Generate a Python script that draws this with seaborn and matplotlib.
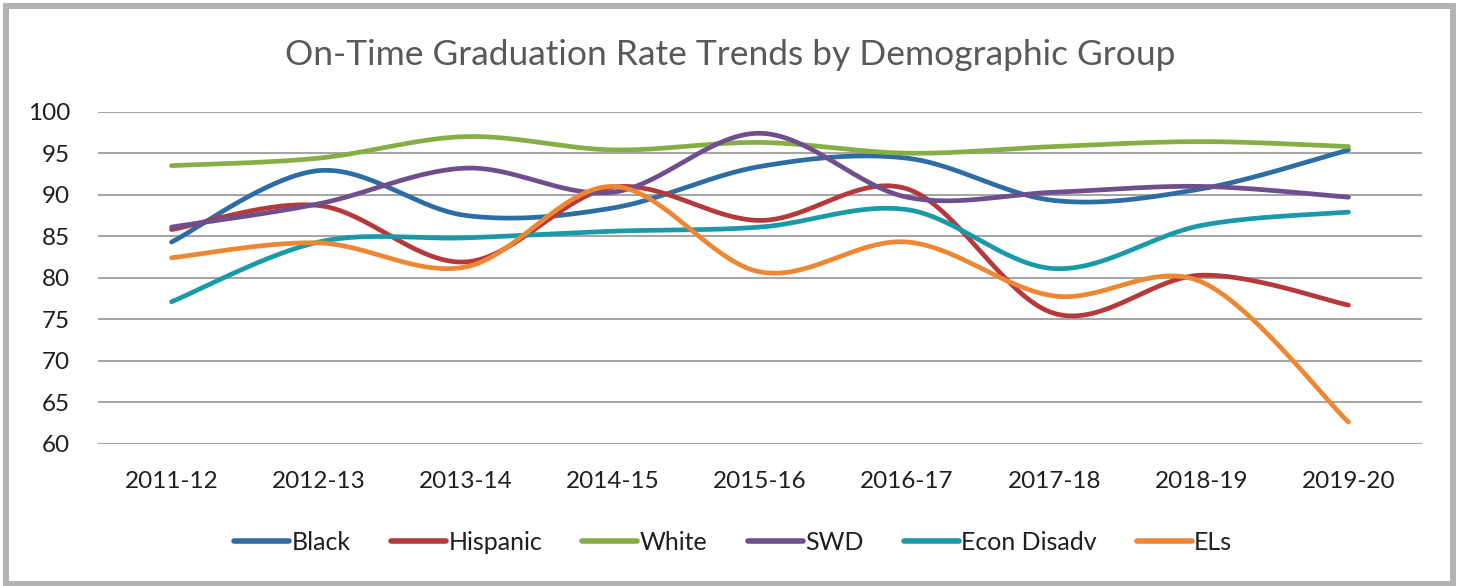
import numpy as np
import pandas as pd
import seaborn as sns
import matplotlib.pyplot as plt
from matplotlib.patches import Rectangle

years = ['2011-12', '2012-13', '2013-14', '2014-15', '2015-16', '2016-17', '2017-18', '2018-19', '2019-20']

black = [84.3, 92.9, 87.5, 88.4, 93.4, 94.4, 89.3, 90.7, 95.4]
hispanic = [85.8, 88.7, 81.9, 90.9, 86.9, 90.7, 75.7, 80.3, 76.7]
white = [93.5, 94.4, 97.0, 95.4, 96.3, 95.0, 95.8, 96.4, 95.8]
swd = [86.1, 88.9, 93.2, 90.3, 97.4, 89.7, 90.3, 91.0, 89.7]
econDisadv = [77.1, 84.3, 84.8, 85.6, 86.1, 88.2, 81.1, 86.3, 87.9]
els = [82.4, 84.2, 81.3, 91.0, 80.7, 84.3, 77.8, 79.5, 62.6]

groups = ['Black', 'Hispanic', 'White', 'SWD', 'Econ Disadv', 'ELs']
values = [black, hispanic, white, swd, econDisadv, els]
colors = ['#2E6CA4', '#B5393A', '#87AE45', '#6F4E8E', '#1A9AA9', '#EE8733']


# Excel-style smoothed line (Catmull-Rom through the points)
def smooth(xs, ys, n=40):
    pts = np.column_stack([xs, ys]).astype(float)
    padded = np.vstack([pts[0], pts, pts[-1]])
    out = []
    for i in range(len(pts) - 1):
        p0, p1, p2, p3 = padded[i], padded[i + 1], padded[i + 2], padded[i + 3]
        c1 = p1 + (p2 - p0) / 6
        c2 = p2 - (p3 - p1) / 6
        t = np.linspace(0, 1, n)[:, None]
        seg = ((1 - t) ** 3) * p1 + 3 * ((1 - t) ** 2) * t * c1 + 3 * (1 - t) * t ** 2 * c2 + t ** 3 * p2
        out.append(seg if i == 0 else seg[1:])
    out = np.vstack(out)
    return out[:, 0], out[:, 1]


frames = []
for name, vals in zip(groups, values):
    sx, sy = smooth(np.arange(len(years)), vals)
    frames.append(pd.DataFrame({'x': sx, 'rate': sy, 'group': name}))
curves = pd.concat(frames, ignore_index=True)

sns.set_style('white')
plt.rcParams['font.family'] = ['Lato', 'DejaVu Sans']

fig = plt.figure(figsize=(14.61, 5.86), dpi=100)
ax = fig.add_axes([98 / 1461, 1 - 443.7 / 586, (1422 - 98) / 1461, (443.7 - 111.7) / 586])

sns.lineplot(data=curves, x='x', y='rate', hue='group', hue_order=groups,
             palette=dict(zip(groups, colors)), sort=False, estimator=None,
             units='group', linewidth=3.4, ax=ax, legend=False,
             solid_capstyle='round')

ax.set_xlim(-0.5, 8.5)
ax.set_ylim(60, 100)
ax.set_yticks(range(60, 101, 5))
ax.set_xticks(range(len(years)))
ax.set_xticklabels(years)
ax.set_xlabel('')
ax.set_ylabel('')
ax.grid(axis='y', color='#A6A6A6', linewidth=1.5)
ax.set_axisbelow(True)
for s in ax.spines.values():
    s.set_visible(False)
ax.tick_params(axis='y', length=0, pad=20, labelsize=17.5, labelcolor='#1F1F1F')
ax.tick_params(axis='x', length=0, pad=20, labelsize=17.5, labelcolor='#1F1F1F')

fig.text(0.5, 1 - 55 / 586, 'On-Time Graduation Rate Trends by Demographic Group',
         ha='center', va='center', fontsize=25.5, color='#595959')

handles = [plt.Line2D([], [], color=c, linewidth=4, solid_capstyle='round') for c in colors]
fig.legend(handles, groups, loc='center', bbox_to_anchor=(0.502, 1 - 542 / 586),
           ncol=6, frameon=False, fontsize=18, handlelength=2.2, handletextpad=0.1,
           columnspacing=1.6, labelcolor='#1F1F1F')

fig.patches.append(Rectangle((6 / 1461, 2 / 586), 1447 / 1461, 578 / 586,
                             transform=fig.transFigure, fill=False,
                             edgecolor='#B3B3B3', linewidth=4.3))

fig.savefig('out.png', dpi=100)
